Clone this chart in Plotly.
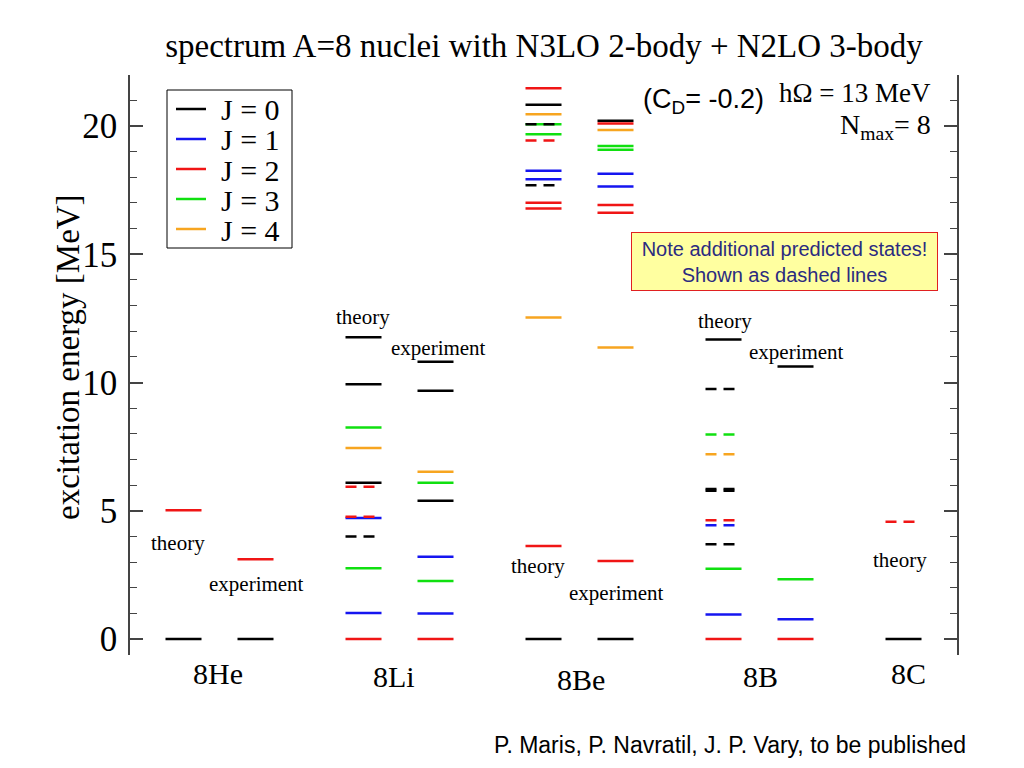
import plotly.graph_objects as go

# ---------------- data ----------------
nuclei = ["8He", "8Li", "8Be", "8B", "8C"]
j_labels = ["J = 0", "J = 1", "J = 2", "J = 3", "J = 4"]
j_colors = ["#000000", "#1515f0", "#f01515", "#10e010", "#f7a520"]

# levels: energy (MeV), J, dashed (1 = additional predicted state)
he8_th_E = [0.0, 5.02]
he8_th_J = [0, 2]
he8_th_D = [0, 0]
he8_ex_E = [0.0, 3.11]
he8_ex_J = [0, 2]

li8_th_E = [0.0, 1.01, 2.76, 4.00, 4.72, 4.77, 5.94, 6.09, 7.45, 8.25, 9.93, 11.76]
li8_th_J = [2, 1, 3, 0, 1, 2, 2, 0, 4, 3, 0, 0]
li8_th_D = [0, 0, 0, 1, 0, 1, 1, 0, 0, 0, 0, 0]
li8_ex_E = [0.0, 0.99, 2.26, 3.21, 5.39, 6.09, 6.52, 9.68, 10.81]
li8_ex_J = [2, 1, 3, 1, 0, 3, 4, 0, 0]

be8_th_E = [0.0, 3.63, 12.53, 16.78, 17.01, 17.69, 17.92, 18.26, 19.43, 19.68, 20.07, 20.07, 20.46, 20.83, 21.47]
be8_th_J = [0, 2, 4, 2, 2, 0, 1, 1, 2, 3, 3, 0, 4, 0, 2]
be8_th_D = [0, 0, 0, 0, 0, 1, 0, 0, 1, 0, 0, 1, 0, 0, 0]
be8_ex_E = [0.0, 3.04, 11.36, 16.62, 16.92, 17.64, 18.14, 19.07, 19.22, 19.84, 20.20, 20.10]
be8_ex_J = [0, 2, 4, 2, 2, 1, 1, 3, 3, 4, 0, 2]

b8_th_E = [0.0, 0.96, 2.74, 3.69, 4.43, 4.63, 5.78, 5.85, 7.20, 7.97, 9.75, 11.68]
b8_th_J = [2, 1, 3, 0, 1, 2, 0, 0, 4, 3, 0, 0]
b8_th_D = [0, 0, 0, 1, 1, 1, 1, 1, 1, 1, 1, 0]
b8_ex_E = [0.0, 0.77, 2.33, 10.62]
b8_ex_J = [2, 1, 3, 0]

c8_th_E = [0.0, 4.57]
c8_th_J = [0, 2]
c8_th_D = [0, 1]

y_ticks = [0, 5, 10, 15, 20]

# ---------------- build ----------------
theory = [(he8_th_E, he8_th_J, he8_th_D), (li8_th_E, li8_th_J, li8_th_D),
          (be8_th_E, be8_th_J, be8_th_D), (b8_th_E, b8_th_J, b8_th_D),
          (c8_th_E, c8_th_J, c8_th_D)]
expt = [(he8_ex_E, he8_ex_J), (li8_ex_E, li8_ex_J), (be8_ex_E, be8_ex_J),
        (b8_ex_E, b8_ex_J), None]

OFF = 0.2     # column offset theory / experiment
HW = 0.1      # half width of a level line

segs = {(j, d): ([], []) for j in range(5) for d in (0, 1)}


def add(xc, e, j, d):
    xs, ys = segs[(j, d)]
    xs += [xc - HW, xc + HW, None]
    ys += [e, e, None]


for i, (E, J, D) in enumerate(theory):
    for e, j, d in zip(E, J, D):
        add(i - OFF, e, j, d)
for i, ex in enumerate(expt):
    if ex is None:
        continue
    for e, j in zip(*ex):
        add(i + OFF, e, j, 0)

fig = go.Figure()
for d in (0, 1):
    for j in range(5):
        xs, ys = segs[(j, d)]
        fig.add_trace(go.Scatter(
            x=xs if xs else [None], y=ys if ys else [None], mode="lines",
            line=dict(color=j_colors[j], width=2.5,
                      dash="solid" if d == 0 else "11px,7px"),
            name=j_labels[j], showlegend=False, hoverinfo="skip"))

# pixel geometry (reference page coordinates; page body has an 8px margin)
PG = 8
L, R, T, B = 130, 957, 75, 655
W, H = 1024 - PG, 768 - PG


def pxx(px):
    return (px - L) / (R - L)


def pxy(py):
    return (B - py) / (B - T)


PXPU = 180.0
X0PX = 219.5
MEVPX = 25.65
xr = [(L - X0PX) / PXPU, (R - X0PX) / PXPU]
yr = [-(B - 639) / MEVPX, (639 - T) / MEVPX]

SERIF = "Liberation Serif, Times New Roman, serif"
SANS = "Liberation Sans, Arial, Helvetica, sans-serif"

fig.update_layout(
    width=W, height=H, autosize=False,
    margin=dict(l=L - PG, r=1024 - R, t=T - PG, b=768 - B, pad=0),
    plot_bgcolor="white", paper_bgcolor="white",
    title=dict(text="spectrum A=8 nuclei with N3LO 2-body + N2LO 3-body",
               x=(544 - PG) / W, xanchor="center", y=1 - (45 - PG) / H,
               yanchor="middle",
               font=dict(family=SERIF, size=33, color="black")),
    showlegend=False,
    xaxis=dict(range=xr, showline=False, showgrid=False, zeroline=False,
               showticklabels=False, ticks=""),
    yaxis=dict(range=yr, showline=True, linecolor="#444", linewidth=1.5,
               mirror="ticks", showgrid=False, zeroline=False,
               tickvals=y_ticks, ticks="inside", ticklen=13, tickwidth=1.5,
               tickcolor="#444", ticklabelstandoff=4,
               tickfont=dict(family=SERIF, size=35, color="black"),
               minor=dict(dtick=1, ticks="inside", ticklen=7, tickwidth=1.2,
                          tickcolor="#444", showgrid=False)),
)

# nucleus labels under the columns (placement in page pixels)
label_pos = [(218, 673), (394, 676), (581, 679), (760, 676), (908, 674)]
for (lx, ly), name in zip(label_pos, nuclei):
    fig.add_annotation(x=pxx(lx), y=pxy(ly), xref="paper", yref="paper",
                       text=name, showarrow=False, xanchor="center",
                       yanchor="middle",
                       font=dict(family=SERIF, size=30, color="black"))

# theory / experiment labels (data coordinates)
lbls = [("theory", -0.23, 3.74), ("experiment", 0.203, 2.14),
        ("theory", 0.797, 12.55), ("experiment", 1.214, 11.35),
        ("theory", 1.769, 2.85), ("experiment", 2.203, 1.79),
        ("theory", 2.808, 12.40), ("experiment", 3.208, 11.19),
        ("theory", 3.781, 3.08)]
for t, x, y in lbls:
    fig.add_annotation(x=x, y=y, xref="x", yref="y", text=t, showarrow=False,
                       xanchor="center", yanchor="middle",
                       font=dict(family=SERIF, size=21, color="black"))

# legend drawn by hand (box, samples, labels)
fig.add_shape(type="rect", xref="paper", yref="paper",
              x0=pxx(167), x1=pxx(292), y0=pxy(248), y1=pxy(90),
              line=dict(color="black", width=1), fillcolor="white", layer="below")
for k in range(5):
    ry = 109 + 30 * k
    fig.add_shape(type="line", xref="paper", yref="paper",
                  x0=pxx(176), x1=pxx(206), y0=pxy(ry), y1=pxy(ry),
                  line=dict(color=j_colors[k], width=2.5))
    fig.add_annotation(x=pxx(219), y=pxy(ry + 1), xref="paper", yref="paper",
                       text=j_labels[k], showarrow=False, xanchor="left",
                       yanchor="middle",
                       font=dict(family=SERIF, size=30, color="black"))

# y axis title
fig.add_annotation(x=pxx(68), y=pxy(357), xref="paper", yref="paper",
                   text="excitation energy [MeV]", textangle=-90, showarrow=False,
                   xanchor="center", yanchor="middle",
                   font=dict(family=SERIF, size=33, color="black"))

fig.add_annotation(x=pxx(703), y=pxy(101), xref="paper", yref="paper",
                   text="(C<sub>D</sub>= -0.2)", showarrow=False,
                   xanchor="center", yanchor="middle",
                   font=dict(family=SANS, size=27, color="black"))
fig.add_annotation(x=pxx(933), y=pxy(93), xref="paper", yref="paper",
                   xanchor="right", yanchor="middle", text="hΩ = 13 MeV",
                   showarrow=False,
                   font=dict(family=SERIF, size=27, color="black"))
fig.add_annotation(x=pxx(933), y=pxy(126), xref="paper", yref="paper",
                   xanchor="right", yanchor="middle", text="N<sub>max</sub>= 8",
                   showarrow=False,
                   font=dict(family=SERIF, size=28, color="black"))
fig.add_annotation(x=pxx(784.5), y=pxy(261.5), xref="paper", yref="paper",
                   xanchor="center", yanchor="middle",
                   text="Note additional predicted states!<br>Shown as dashed lines",
                   showarrow=False, bgcolor="#ffffa0", bordercolor="#e02020",
                   borderwidth=1, width=303, height=55,
                   font=dict(family=SANS, size=20, color="#2b2b80"))
fig.add_annotation(x=pxx(968), y=pxy(745), xref="paper", yref="paper",
                   xanchor="right", yanchor="middle",
                   text="P. Maris, P. Navratil, J. P. Vary, to be published",
                   showarrow=False, font=dict(family=SANS, size=23, color="black"))

fig.write_html("out.html")
